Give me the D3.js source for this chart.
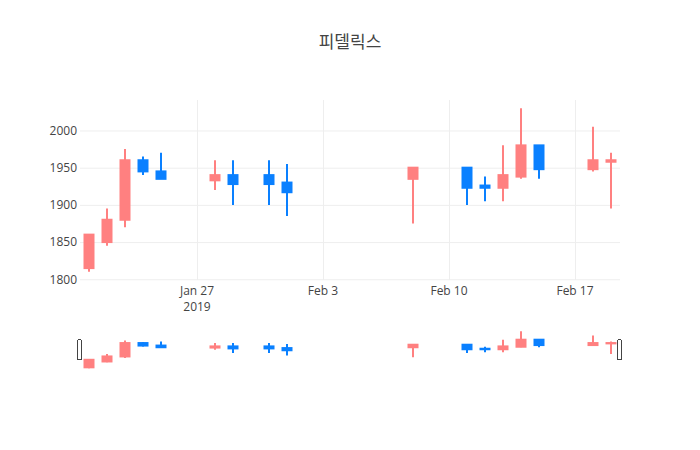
<!DOCTYPE html>
<html>
<head>
<meta charset="utf-8">
<script src="https://cdn.jsdelivr.net/npm/d3@7"></script>
<style>
  body { margin: 0; background: #fff; }
  text { font-family: "Open Sans", "Noto Sans CJK KR", verdana, arial, sans-serif; fill: #444; }
</style>
</head>
<body>
<svg id="chart" width="700" height="450"></svg>
<script>
// candlestick + range slider

var dates = ["2019-01-21", "2019-01-22", "2019-01-23", "2019-01-24", "2019-01-25",
             "2019-01-28", "2019-01-29", "2019-01-31", "2019-02-01", "2019-02-08",
             "2019-02-11", "2019-02-12", "2019-02-13", "2019-02-14", "2019-02-15",
             "2019-02-18", "2019-02-19"];
var open  = [1815, 1850, 1880, 1960, 1945, 1933, 1940, 1940, 1930, 1935, 1950, 1926, 1923, 1938, 1980, 1948, 1958];
var high  = [1860, 1895, 1975, 1965, 1970, 1960, 1960, 1960, 1955, 1950, 1950, 1938, 1980, 2030, 1980, 2005, 1970];
var low   = [1810, 1845, 1870, 1940, 1935, 1920, 1900, 1900, 1885, 1875, 1900, 1905, 1905, 1935, 1935, 1945, 1895];
var close = [1860, 1880, 1960, 1945, 1935, 1940, 1928, 1928, 1917, 1950, 1923, 1923, 1940, 1980, 1948, 1960, 1960];

var xTickDates = ["2019-01-27", "2019-02-03", "2019-02-10", "2019-02-17"];
var yTicks = [1800, 1850, 1900, 1950, 2000];
var title = "피델릭스";

var upColor = "#ff8080",
    downColor = "#0a80ff";

var svg = d3.select("#chart"),
    margin = {top: 100, right: 80, bottom: 80, left: 80},
    width = +svg.attr("width") - margin.left - margin.right,
    fullHeight = +svg.attr("height") - margin.top - margin.bottom,
    sliderHeight = fullHeight * 0.15,
    height = 180;

var parseDate = d3.timeParse("%Y-%m-%d");
var halfDay = 12 * 3600 * 1000;

var data = dates.map(function(d, i) {
    return {date: parseDate(d), o: open[i], h: high[i], l: low[i], c: close[i]};
});

// domains with plotly-ish padding
var lo = d3.min(data, function(d) { return d.l; }),
    hi = d3.max(data, function(d) { return d.h; }),
    pad = (hi - lo) * 0.05;

var x = d3.scaleTime()
    .domain([new Date(+data[0].date - halfDay), new Date(+data[data.length - 1].date + halfDay)])
    .range([0, width]);

var y = d3.scaleLinear().domain([lo - pad, hi + pad]).range([height, 0]);
var ys = d3.scaleLinear().domain([lo - pad, hi + pad]).range([sliderHeight, 0]);

var boxW = (x(new Date(+data[0].date + 2 * halfDay)) - x(data[0].date)) * 0.5;

// title
svg.append("text")
    .attr("x", 350)
    .attr("y", 48)
    .attr("text-anchor", "middle")
    .style("font-size", "17px")
    .text(title);

var g = svg.append("g")
    .attr("transform", "translate(" + margin.left + "," + margin.top + ")");

// grid
var fmt = d3.timeFormat("%b %-d");
var xAxis = d3.axisBottom(x)
    .tickValues(xTickDates.map(parseDate))
    .tickSize(height)
    .tickPadding(0)
    .tickFormat("");

var gx = g.append("g")
    .attr("class", "axis axis--x")
    .call(xAxis);
gx.select(".domain").remove();
gx.selectAll(".tick line").attr("stroke", "#eee").attr("y1", 0).attr("y2", height);

var yAxis = d3.axisLeft(y)
    .tickValues(yTicks)
    .tickSize(-width)
    .tickPadding(3)
    .tickFormat(d3.format("d"));

var gy = g.append("g")
    .attr("class", "axis axis--y")
    .call(yAxis);
gy.select(".domain").remove();
gy.selectAll(".tick line").attr("stroke", "#eee");
gy.selectAll(".tick text")
    .attr("x", -3)
    .style("font-size", "12px")
    .style("font-family", null);

// x labels
var xl = g.append("g").attr("class", "xlabels");
xTickDates.forEach(function(s, i) {
    var d = parseDate(s);
    xl.append("text")
        .attr("x", x(d))
        .attr("y", height + 15)
        .attr("text-anchor", "middle")
        .style("font-size", "12px")
        .text(fmt(d));
    if (i == 0) {
        xl.append("text")
            .attr("x", x(d))
            .attr("y", height + 31)
            .attr("text-anchor", "middle")
            .style("font-size", "12px")
            .text(d3.timeFormat("%Y")(d));
    }
});

function drawCandles(sel, yScale) {
    var c = sel.selectAll(".candle")
        .data(data)
        .enter()
        .append("g")
        .attr("class", "candle");

    c.append("line")
        .attr("x1", function(d) { return x(d.date); })
        .attr("x2", function(d) { return x(d.date); })
        .attr("y1", function(d) { return yScale(d.h); })
        .attr("y2", function(d) { return yScale(d.l); })
        .attr("stroke", function(d) { return d.c >= d.o ? upColor : downColor; })
        .attr("stroke-width", 2);

    c.append("rect")
        .attr("x", function(d) { return x(d.date) - boxW / 2; })
        .attr("width", boxW)
        .attr("y", function(d) { return yScale(Math.max(d.o, d.c)); })
        .attr("height", function(d) { return Math.abs(yScale(d.o) - yScale(d.c)); })
        .attr("fill", function(d) { return d.c >= d.o ? upColor : downColor; })
        .attr("stroke", function(d) { return d.c >= d.o ? upColor : downColor; })
        .attr("stroke-width", 2);
}

drawCandles(g.append("g"), y);

// range slider
var sliderTop = margin.top + fullHeight - sliderHeight;
var sg = svg.append("g")
    .attr("transform", "translate(" + margin.left + "," + sliderTop + ")");

sg.append("rect")
    .attr("width", width)
    .attr("height", sliderHeight)
    .attr("fill", "#fff");

drawCandles(sg.append("g"), ys);

[0, width].forEach(function(px) {
    sg.append("rect")
        .attr("x", px - 2.5)
        .attr("y", sliderHeight / 2 - 10)
        .attr("width", 4)
        .attr("height", 20)
        .attr("rx", 1)
        .attr("fill", "#fff")
        .attr("stroke", "#444")
        .attr("stroke-width", 1)
        .attr("shape-rendering", "crispEdges");
});
</script>
</body>
</html>
